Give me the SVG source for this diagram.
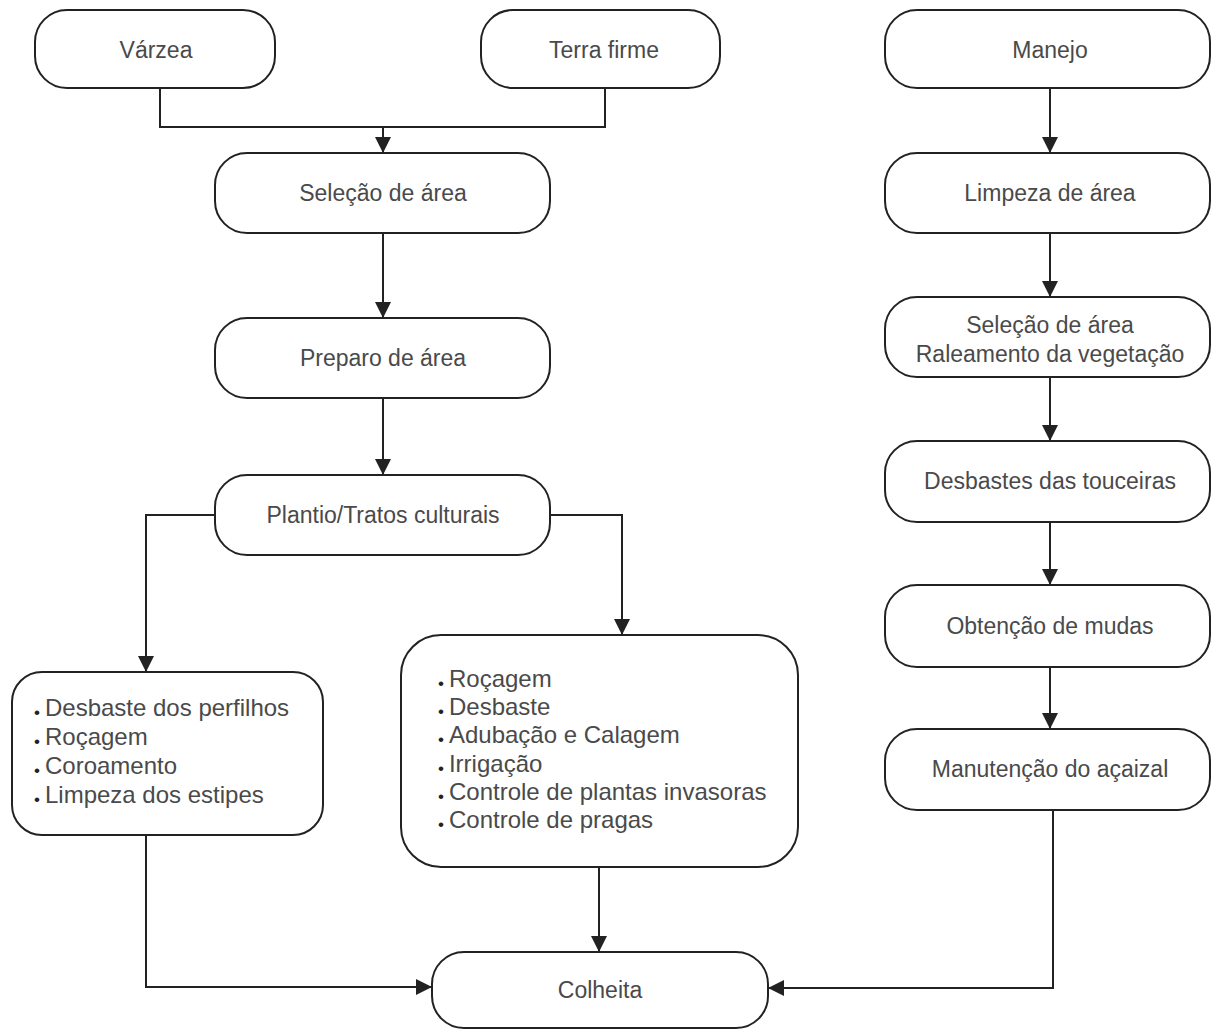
<svg xmlns="http://www.w3.org/2000/svg" width="1213" height="1031" viewBox="0 0 1213 1031">
<style>
.box{fill:#fff;stroke:#222;stroke-width:2}
.lbl{font-family:"Liberation Sans",Arial,sans-serif;font-size:23px;fill:#4a4a4a;text-anchor:middle}
.bl{font-family:"Liberation Sans",Arial,sans-serif;font-size:24px;fill:#4a4a4a}
.bt{font-size:17px;fill:#222}
.con{fill:none;stroke:#222;stroke-width:2}
</style>
<defs>
<marker id="ah" markerUnits="userSpaceOnUse" markerWidth="16" markerHeight="16" refX="16" refY="8" orient="auto">
<path d="M0,0 L16,8 L0,16 z" fill="#222"/>
</marker>
</defs>
<rect width="1213" height="1031" fill="#fff"/>
<g id="connectors">
<path class="con" d="M160 88 V127 H605 V88"/>
<path class="con" d="M383 127 V153" marker-end="url(#ah)"/>
<path class="con" d="M383 233 V318" marker-end="url(#ah)"/>
<path class="con" d="M383 398 V475" marker-end="url(#ah)"/>
<path class="con" d="M215 515 H146 V672" marker-end="url(#ah)"/>
<path class="con" d="M550 515 H622 V635" marker-end="url(#ah)"/>
<path class="con" d="M146 835 V987 H432" marker-end="url(#ah)"/>
<path class="con" d="M599 867 V952" marker-end="url(#ah)"/>
<path class="con" d="M1053 810 V988 H768" marker-end="url(#ah)"/>
<path class="con" d="M1050 88 V153" marker-end="url(#ah)"/>
<path class="con" d="M1050 233 V297" marker-end="url(#ah)"/>
<path class="con" d="M1050 377 V441" marker-end="url(#ah)"/>
<path class="con" d="M1050 522 V585" marker-end="url(#ah)"/>
<path class="con" d="M1050 667 V729" marker-end="url(#ah)"/>
</g>
<g id="varzea"><rect class="box" x="35" y="10" width="240" height="78" rx="32"/><text class="lbl" x="156" y="58">Várzea</text></g>
<g id="terra-firme"><rect class="box" x="481" y="10" width="239" height="78" rx="32"/><text class="lbl" x="604" y="58">Terra firme</text></g>
<g id="manejo"><rect class="box" x="885" y="10" width="325" height="78" rx="32"/><text class="lbl" x="1050" y="58">Manejo</text></g>
<g id="selecao-area"><rect class="box" x="215" y="153" width="335" height="80" rx="32"/><text class="lbl" x="383" y="201">Seleção de área</text></g>
<g id="preparo-area"><rect class="box" x="215" y="318" width="335" height="80" rx="32"/><text class="lbl" x="383" y="366">Preparo de área</text></g>
<g id="plantio"><rect class="box" x="215" y="475" width="335" height="80" rx="32"/><text class="lbl" x="383" y="523">Plantio/Tratos culturais</text></g>
<g id="tratos-varzea"><rect class="box" x="12" y="672" width="311" height="163" rx="30"/>
<text class="bl" x="34" y="716"><tspan class="bt" dy="2">•</tspan><tspan dx="5" dy="-2">Desbaste dos perfilhos</tspan></text>
<text class="bl" x="34" y="745"><tspan class="bt" dy="2">•</tspan><tspan dx="5" dy="-2">Roçagem</tspan></text>
<text class="bl" x="34" y="774"><tspan class="bt" dy="2">•</tspan><tspan dx="5" dy="-2">Coroamento</tspan></text>
<text class="bl" x="34" y="803"><tspan class="bt" dy="2">•</tspan><tspan dx="5" dy="-2">Limpeza dos estipes</tspan></text>
</g>
<g id="tratos-terra-firme"><rect class="box" x="401" y="635" width="397" height="232" rx="40"/>
<text class="bl" x="438" y="687"><tspan class="bt" dy="2">•</tspan><tspan dx="5" dy="-2">Roçagem</tspan></text>
<text class="bl" x="438" y="715"><tspan class="bt" dy="2">•</tspan><tspan dx="5" dy="-2">Desbaste</tspan></text>
<text class="bl" x="438" y="743"><tspan class="bt" dy="2">•</tspan><tspan dx="5" dy="-2">Adubação e Calagem</tspan></text>
<text class="bl" x="438" y="772"><tspan class="bt" dy="2">•</tspan><tspan dx="5" dy="-2">Irrigação</tspan></text>
<text class="bl" x="438" y="800"><tspan class="bt" dy="2">•</tspan><tspan dx="5" dy="-2">Controle de plantas invasoras</tspan></text>
<text class="bl" x="438" y="828"><tspan class="bt" dy="2">•</tspan><tspan dx="5" dy="-2">Controle de pragas</tspan></text>
</g>
<g id="limpeza-area"><rect class="box" x="885" y="153" width="325" height="80" rx="32"/><text class="lbl" x="1050" y="201">Limpeza de área</text></g>
<g id="selecao-raleamento"><rect class="box" x="885" y="297" width="325" height="80" rx="32"/><text class="lbl" x="1050" y="333">Seleção de área</text><text class="lbl" x="1050" y="362">Raleamento da vegetação</text></g>
<g id="desbastes"><rect class="box" x="885" y="441" width="325" height="81" rx="32"/><text class="lbl" x="1050" y="489">Desbastes das touceiras</text></g>
<g id="obtencao"><rect class="box" x="885" y="585" width="325" height="82" rx="32"/><text class="lbl" x="1050" y="634">Obtenção de mudas</text></g>
<g id="manutencao"><rect class="box" x="885" y="729" width="325" height="81" rx="32"/><text class="lbl" x="1050" y="777">Manutenção do açaizal</text></g>
<g id="colheita"><rect class="box" x="432" y="952" width="336" height="76" rx="32"/><text class="lbl" x="600" y="998">Colheita</text></g>
</svg>
